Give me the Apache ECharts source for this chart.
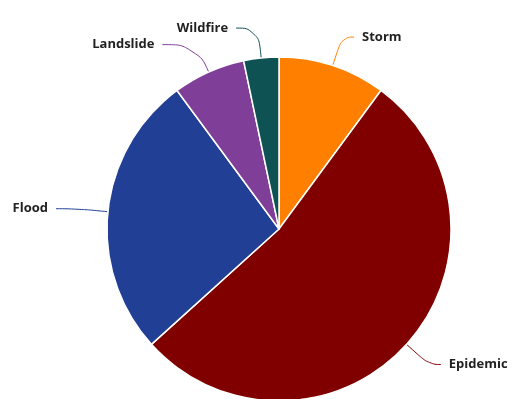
<!DOCTYPE html>
<html>
<head>
<meta charset="utf-8">
<script src="https://cdn.jsdelivr.net/npm/echarts@6/dist/echarts.min.js"></script>
<style>
  html, body { margin: 0; padding: 0; background: #fff; }
  #view { width: 518px; height: 399px; }
</style>
</head>
<body>
<div id="view"></div>
<script>
// disaster types, clockwise from 12 o'clock
var categories = ['Storm', 'Epidemic', 'Flood', 'Landslide', 'Wildfire']
var shares = [10.1, 53.2, 26.6, 6.8, 3.3]
var colors = ['#ff8000', '#800000', '#213f94', '#7f3f98', '#0f5254']
// second leg of each label line
var leg2 = [12, 12, 22, 34, 22]

var mychart = echarts.init(document.getElementById('view'))
var pieData = categories.map(function (name, i) {
    return {
        name: name,
        value: shares[i],
        itemStyle: { color: colors[i] },
        labelLine: { length2: leg2[i] }
    }
})
var options = {
    animation: false,
    series: [{
        type: 'pie',
        center: [279, 229],
        radius: 172,
        startAngle: 90,
        clockwise: true,
        data: pieData,
        itemStyle: { borderColor: '#fff', borderWidth: 1.5 },
        label: {
            show: true,
            formatter: '{b}',
            color: '#222',
            fontFamily: 'Open Sans',
            fontWeight: 'bold',
            fontSize: 13,
            overflow: 'none',
            distanceToLabelLine: 8
        },
        labelLine: {
            show: true,
            length: 30,
            smooth: 0.5,
            lineStyle: { width: 1 }
        }
    }]
}
mychart.setOption(options)
</script>
</body>
</html>
